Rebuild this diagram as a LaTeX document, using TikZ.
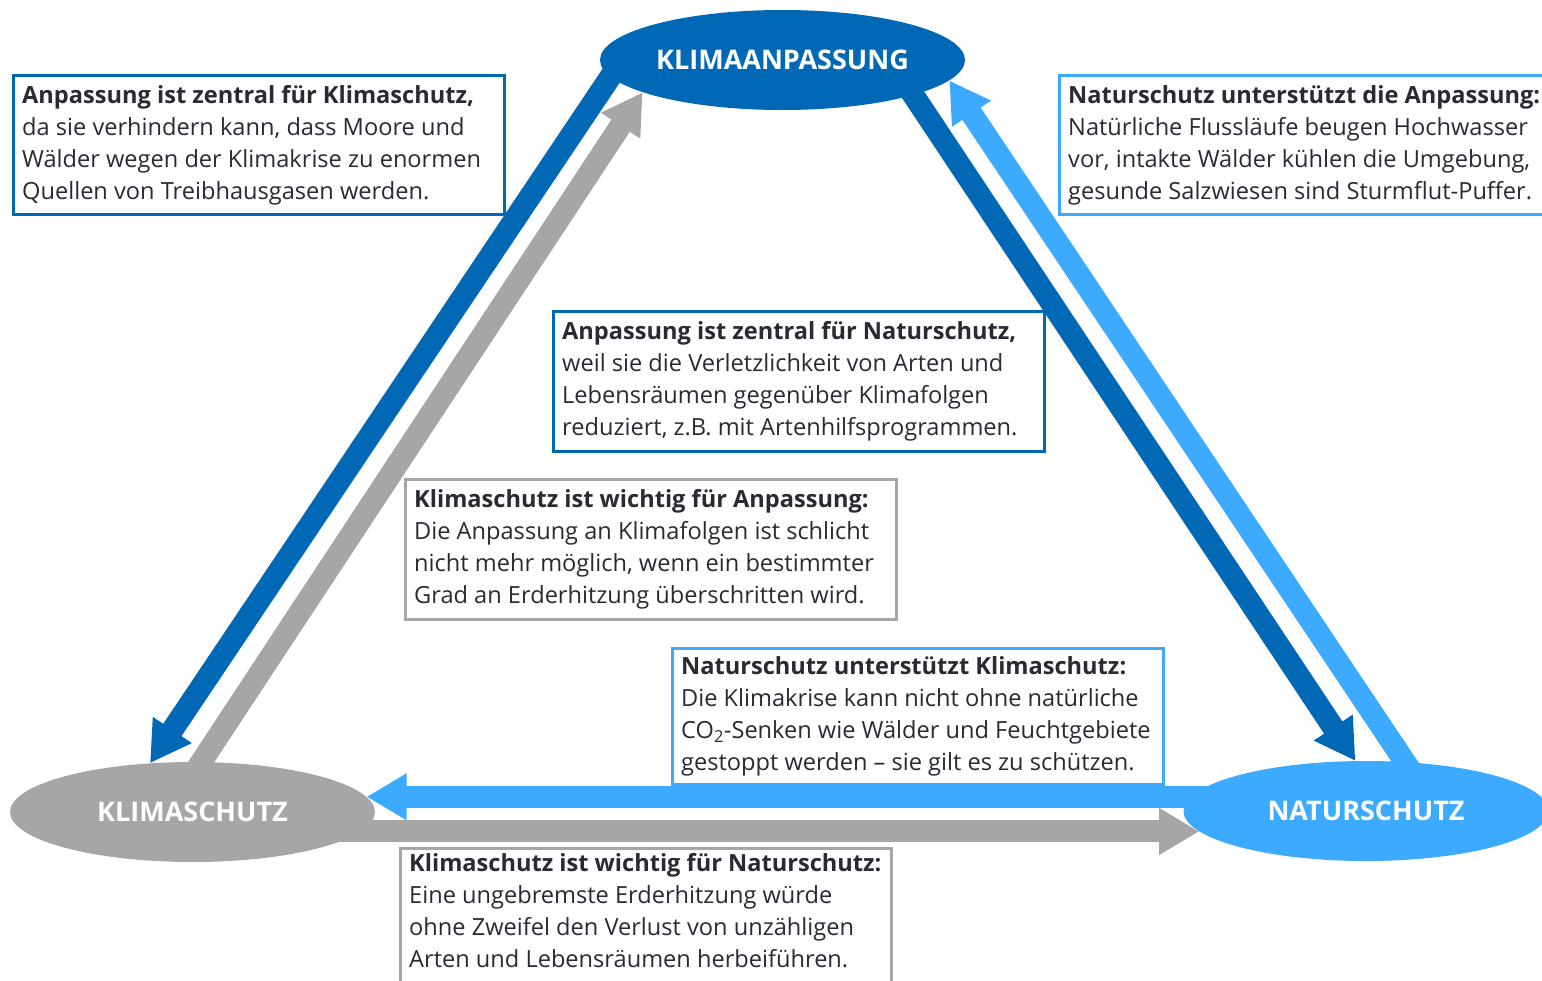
\documentclass[tikz,border=0pt]{standalone}
\usepackage{fontspec}
\setmainfont{Open Sans}
\usetikzlibrary{arrows.meta,shapes.geometric,backgrounds}
\definecolor{dblue}{HTML}{0068B4}
\definecolor{lblue}{HTML}{3BAAFF}
\definecolor{lgray}{HTML}{A6A6A6}
\definecolor{txt}{HTML}{2B2A33}
\begin{document}
\begin{tikzpicture}[x=1pt,y=-1pt,
  fat/.style={line width=22pt, line cap=butt, -{Triangle[length=40pt,width=44pt]}},
  ell/.style={ellipse, inner sep=0pt, minimum width=365pt, minimum height=100pt,
              text=white, font=\fontsize{27}{32}\selectfont\bfseries},
  infobox/.style={draw=#1, line width=3.5pt, fill=white, inner sep=0pt,
              anchor=north west, minimum width=491pt, minimum height=139pt},
  infotext/.style={anchor=west, inner sep=0pt, align=left, text=txt,
              font=\fontsize{23.6}{32}\selectfont}
]
\useasboundingbox (0,0) rectangle (1542,980);
\clip (0,0) rectangle (1542,980);

% ellipses
\node[ell, fill=dblue] (ka) at (782.5,60) {KLIMAANPASSUNG};
\node[ell, fill=lgray] (ks) at (192.5,812) {KLIMASCHUTZ};
\node[ell, fill=lblue] (ns) at (1366,811) {NATURSCHUTZ};

% tails of connectors (inside source ellipses)
\coordinate (t1) at (621,61);
\coordinate (t2) at (190,779);
\coordinate (t3) at (902,78);
\coordinate (t4) at (1415,777);

\begin{scope}[on background layer]
  \draw[fat, dblue] (t1) -- (ks.131);
  \draw[fat, lgray] (t2) -- (ka.193);
  \draw[fat, dblue] (t3) -- (ns.102);
  \draw[fat, lblue] (t4) -- (ka.353);
  \draw[fat, lblue] (ks.5.6 -| ns.center) -- (ks.5.6);
  \draw[fat, lgray] (ns.187 -| ks.center) -- (ns.187);
\end{scope}

% boxes
\node[infobox=dblue] (b1) at (11.75,73.75) {};
\node[infobox=lblue] (b2) at (1057.75,73.75) {};
\node[infobox=dblue, minimum height=140pt] (b3) at (551.75,309.75) {};
\node[infobox=lgray, minimum height=140pt] (b4) at (403.75,477.75) {};
\node[infobox=lblue, minimum height=136pt] (b5) at (670.75,646.75) {};
\node[infobox=lgray, minimum height=150pt] (b6) at (398.75,846.75) {};

\node[infotext] (x1) at ([xshift=10.25pt]b1.west) {\textbf{Anpassung ist zentral für Klimaschutz,}\\da sie verhindern kann, dass Moore und\\Wälder wegen der Klimakrise zu enormen\\Quellen von Treibhausgasen werden.};
\node[infotext] (x2) at ([xshift=10.25pt]b2.west) {\textbf{Naturschutz unterstützt die Anpassung:}\\Natürliche Flussläufe beugen Hochwasser\\vor, intakte Wälder kühlen die Umgebung,\\gesunde Salzwiesen sind Sturmflut-Puffer.};
\node[infotext] (x3) at ([xshift=10.25pt]b3.west) {\textbf{Anpassung ist zentral für Naturschutz,}\\weil sie die Verletzlichkeit\ von Arten und\\Lebensräumen gegenüber Klimafolgen\\reduziert, z.B. mit Artenhilfsprogrammen.};
\node[infotext] (x4) at ([xshift=10.25pt]b4.west) {\textbf{Klimaschutz ist wichtig für Anpassung:}\\Die Anpassung an Klimafolgen ist schlicht\\nicht mehr möglich, wenn ein bestimmter\\Grad an Erderhitzung überschritten wird.};
\node[infotext] (x5) at ([xshift=10.25pt]b5.west) {\textbf{Naturschutz unterstützt Klimaschutz:}\\Die Klimakrise kann nicht ohne natürliche\\CO\textsubscript{2}-Senken\ wie Wälder und Feuchtgebiete\\gestoppt werden – sie gilt es zu schützen.};
\node[infotext] (x6) at ([xshift=10.25pt,yshift=-64pt]b6.north west) {\textbf{Klimaschutz ist wichtig für Naturschutz:}\\Eine ungebremste Erderhitzung würde\\ohne Zweifel den Verlust von unzähligen\\Arten und Lebensräumen herbeiführen.};
\end{tikzpicture}
\end{document}
